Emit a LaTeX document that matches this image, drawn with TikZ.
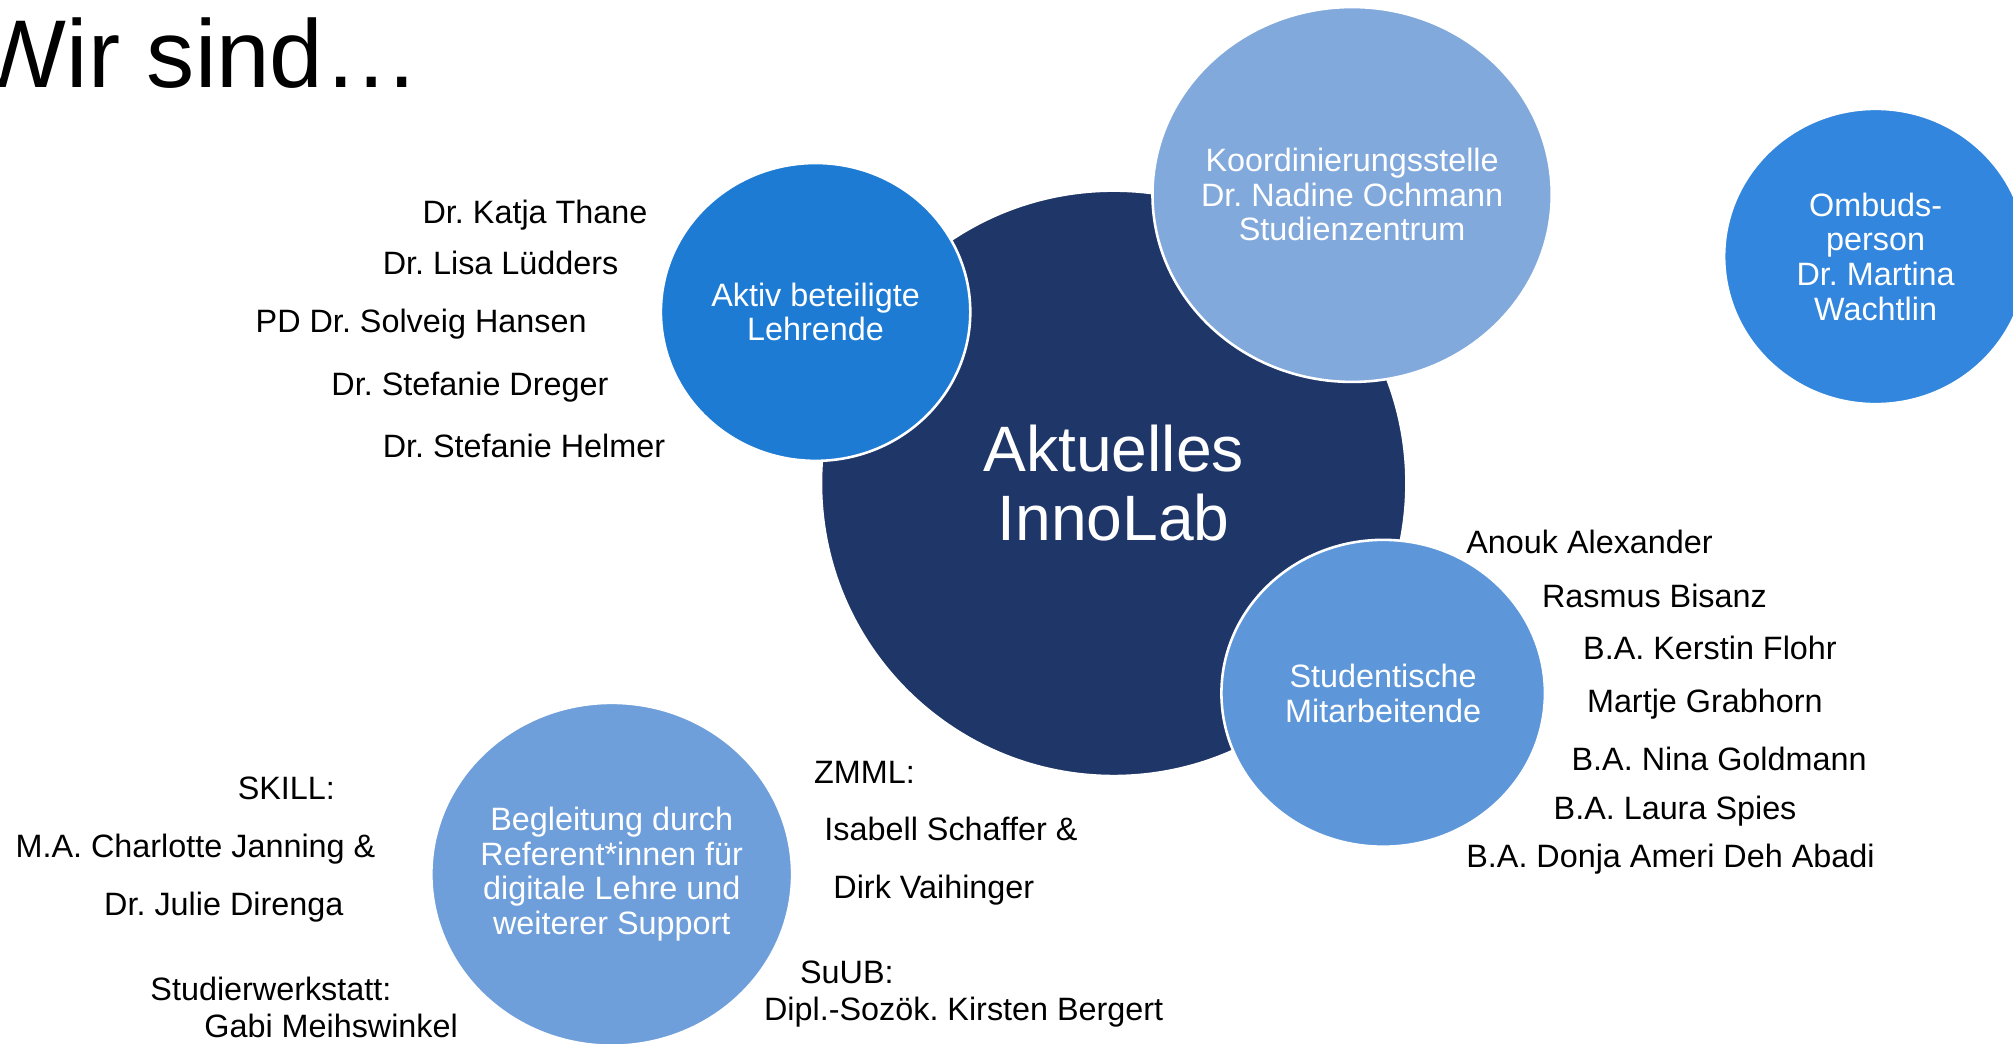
\documentclass[tikz,border=0pt]{standalone}
\usepackage{fontspec}
\setmainfont{Liberation Sans}
\frenchspacing
\definecolor{labnavy}{HTML}{1F3669}
\definecolor{lehrblue}{HTML}{1E7BD4}
\definecolor{koordblue}{HTML}{82A9DC}
\definecolor{ombudsblue}{HTML}{3386DD}
\definecolor{studiblue}{HTML}{5D97DA}
\definecolor{supportblue}{HTML}{6F9FDA}
\tikzset{
  bubble/.style={fill=#1,draw=white,line width=2pt},
  inbubble/.style={text=white,align=center,inner sep=0pt,font=\fontsize{25.2}{27}\selectfont},
  member/.style={anchor=base west,inner sep=0pt,font=\fontsize{25.2}{30}\selectfont}
}

\begin{document}
\begin{tikzpicture}[x=1pt,y=-1pt]
  \clip (0,0) rectangle (1568,813);

  % Title
  \node[anchor=base west,inner sep=0pt,font=\fontsize{75}{80}\selectfont] (title) at (-19,68.5) {Wir sind…};

  % Circles
  \coordinate (innolab) at (867.5,376.5);
  \coordinate (lehrende) at (635.3,243);
  \coordinate (koord) at (1053.2,151.5);
  \coordinate (studis) at (1077.4,540);
  \coordinate (ombuds) at (1461,199.8);
  \coordinate (support) at (476.5,681);
  \draw[bubble=labnavy] (innolab) ellipse [x radius=228, y radius=228];
  \draw[bubble=lehrblue] (lehrende) ellipse [x radius=120.5, y radius=116];
  \draw[bubble=koordblue] (koord) ellipse [x radius=155.5, y radius=146];
  \draw[bubble=studiblue] (studis) ellipse [x radius=126, y radius=119.5];
  \draw[bubble=ombudsblue] (ombuds) ellipse [x radius=118, y radius=115];
  \draw[bubble=supportblue] (support) ellipse [x radius=140.5, y radius=133.5];

  \node[inbubble,font=\fontsize{50}{54}\selectfont] (innolabtext) at (innolab) {Aktuelles\\InnoLab};
  \node[inbubble] (lehrendetext) at (lehrende) {Aktiv beteiligte\\Lehrende};
  \node[inbubble] (koordtext) at (koord) {Koordinierungsstelle\\Dr. Nadine Ochmann\\Studienzentrum};
  \node[inbubble] (studistext) at (studis) {Studentische\\Mitarbeitende};
  \node[inbubble] (ombudstext) at (ombuds) {Ombuds-\\person\\Dr. Martina\\Wachtlin};
  \node[inbubble] (supporttext) at (support) {Begleitung durch\\Referent*innen für\\digitale Lehre und\\weiterer Support};

  % Lehrende
  \node[member] (thane) at (329,174) {Dr. Katja Thane};
  \node[member] (luedders) at (298,214) {Dr. Lisa Lüdders};
  \node[member] (hansen) at (199,259) {PD Dr. Solveig Hansen};
  \node[member] (dreger) at (258,308) {Dr. Stefanie Dreger};
  \node[member] (helmer) at (298,356) {Dr. Stefanie Helmer};

  % Studentische Mitarbeitende
  \node[member] (alexander) at (1142,431) {Anouk Alexander};
  \node[member] (bisanz) at (1201,473) {Rasmus Bisanz};
  \node[member] (flohr) at (1233,514) {B.A. Kerstin Flohr};
  \node[member] (grabhorn) at (1236,555) {Martje Grabhorn};
  \node[member] (goldmann) at (1224,600) {B.A. Nina Goldmann};
  \node[member] (spies) at (1210,638) {B.A. Laura Spies};
  \node[member] (abadi) at (1142,676) {B.A. Donja Ameri Deh Abadi};

  % Support
  \node[member] (skill) at (185,623) {SKILL:};
  \node[member] (janning) at (12,668) {M.A. Charlotte Janning \&};
  \node[member] (direnga) at (81,713) {Dr. Julie Direnga};
  \node[member] (werkstatt) at (117,779) {Studierwerkstatt:};
  \node[member] (meihswinkel) at (159,808) {Gabi Meihswinkel};
  \node[member] (zmml) at (634,610) {ZMML:};
  \node[member] (schaffer) at (642,655) {Isabell Schaffer \&};
  \node[member] (vaihinger) at (649,700) {Dirk Vaihinger};
  \node[member] (suub) at (623,766) {SuUB:};
  \node[member] (bergert) at (595,795) {Dipl.-Sozök. Kirsten Bergert};
\end{tikzpicture}
\end{document}
